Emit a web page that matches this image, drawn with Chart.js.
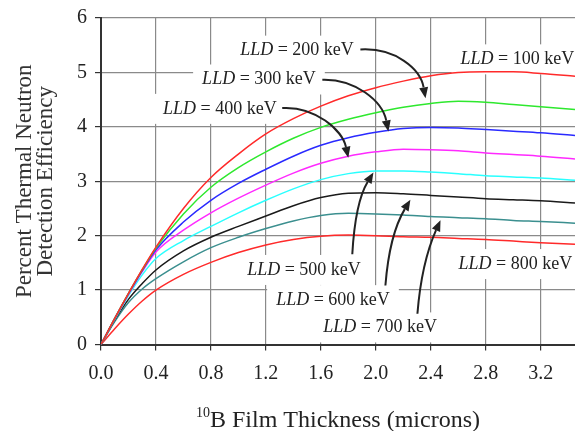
<!DOCTYPE html>
<html>
<head>
<meta charset="utf-8">
<title>Thermal neutron detection efficiency</title>
<script src="https://cdn.jsdelivr.net/npm/chart.js@4.4.1/dist/chart.umd.min.js"></script>
<style>
  html, body { margin: 0; padding: 0; background: #fff; }
  #wrap { width: 575px; height: 431px; position: relative; }
</style>
</head>
<body>
<div id="wrap"><canvas id="effChart"></canvas></div>
<script>
// 10B film thickness (microns)
const thickness = [0, 0.1, 0.2, 0.3, 0.4, 0.6, 0.8, 1.0, 1.2, 1.4, 1.6, 1.8, 2.0, 2.2, 2.4, 2.6, 2.8, 3.0, 3.2, 3.45];

// percent detection efficiency, one array per LLD setting
const eff100 = [0, 0.48, 0.94, 1.38, 1.79, 2.50, 3.07, 3.50, 3.87, 4.15, 4.38, 4.57, 4.72, 4.84, 4.94, 5.00, 5.01, 5.01, 4.98, 4.93];
const eff200 = [0, 0.48, 0.94, 1.37, 1.77, 2.40, 2.89, 3.25, 3.54, 3.79, 3.99, 4.14, 4.26, 4.36, 4.43, 4.47, 4.45, 4.41, 4.37, 4.32];
const eff300 = [0, 0.48, 0.93, 1.36, 1.74, 2.25, 2.65, 2.96, 3.22, 3.46, 3.66, 3.80, 3.90, 3.97, 3.99, 3.98, 3.95, 3.92, 3.89, 3.84];
const eff400 = [0, 0.47, 0.92, 1.34, 1.70, 2.10, 2.42, 2.69, 2.93, 3.15, 3.33, 3.46, 3.54, 3.59, 3.58, 3.56, 3.52, 3.49, 3.46, 3.41];
const eff500 = [0, 0.46, 0.90, 1.28, 1.58, 1.91, 2.17, 2.42, 2.65, 2.86, 3.03, 3.14, 3.19, 3.19, 3.17, 3.14, 3.10, 3.08, 3.06, 3.02];
const eff600 = [0, 0.45, 0.83, 1.12, 1.37, 1.72, 1.97, 2.17, 2.36, 2.55, 2.70, 2.78, 2.79, 2.77, 2.74, 2.71, 2.68, 2.66, 2.64, 2.60];
const eff700 = [0, 0.42, 0.77, 1.02, 1.21, 1.52, 1.78, 1.97, 2.13, 2.27, 2.37, 2.41, 2.40, 2.38, 2.35, 2.33, 2.31, 2.28, 2.26, 2.23];
const eff800 = [0, 0.29, 0.56, 0.80, 1.00, 1.29, 1.51, 1.69, 1.83, 1.93, 1.99, 2.01, 2.00, 1.98, 1.97, 1.95, 1.93, 1.90, 1.87, 1.84];

const lldValues = ['100', '200', '300', '400', '500', '600', '700', '800'];
const yTicks = [0, 1, 2, 3, 4, 5, 6];

const SERIF = '"Liberation Serif", "Times New Roman", serif';

const seriesList = [eff100, eff200, eff300, eff400, eff500, eff600, eff700, eff800];
const lineColors = ['#ff2a2a', '#2ee82e', '#2a2aff', '#ff2aff', '#2affff', '#1a1a1a', '#3b8f8f', '#ff2a2a'];

// where each "LLD = ... keV" label sits (data units: left edge, vertical middle)
const labelSpots = [
    { lld: '100', x: 2.617, y: 5.24 },
    { lld: '200', x: 1.013, y: 5.40 },
    { lld: '300', x: 0.736, y: 4.87 },
    { lld: '400', x: 0.452, y: 4.33 },
    { lld: '500', x: 1.064, y: 1.37 },
    { lld: '600', x: 1.275, y: 0.815 },
    { lld: '700', x: 1.618, y: 0.314 },
    { lld: '800', x: 2.602, y: 1.478 }
];

// curved pointer arrows, bezier in data units
const arrows = [
    { from: [1.888, 5.421], c1: [2.143, 5.457], c2: [2.325, 5.063], to: [2.362, 4.525] },
    { from: [1.611, 4.866], c1: [1.851, 4.884], c2: [2.048, 4.471], to: [2.092, 3.916] },
    { from: [1.319, 4.346], c1: [1.560, 4.382], c2: [1.757, 3.934], to: [1.800, 3.432] },
    { from: [1.829, 1.658], c1: [1.844, 2.321], c2: [1.888, 2.769], to: [1.983, 3.163] },
    { from: [2.070, 1.084], c1: [2.092, 1.783], c2: [2.150, 2.231], to: [2.252, 2.661] },
    { from: [2.303, 0.565], c1: [2.325, 1.246], c2: [2.383, 1.783], to: [2.471, 2.285] }
];

function labelParts(ctx, lld) {
    ctx.font = 'italic 18px ' + SERIF;
    const w1 = ctx.measureText('LLD').width;
    ctx.font = '18px ' + SERIF;
    const rest = ' = ' + lld + ' keV';
    const w2 = ctx.measureText(rest).width;
    return { w1, rest, width: w1 + w2 };
}

const annotationPlugin = {
    id: 'lldAnnotations',
    beforeDatasetsDraw(chart) {
        // white label boxes break the grid, as in the original figure
        const { ctx, scales: { x, y } } = chart;
        ctx.save();
        ctx.fillStyle = '#fff';
        labelSpots.forEach(s => {
            const p = labelParts(ctx, s.lld);
            const px = x.getPixelForValue(s.x);
            const py = y.getPixelForValue(s.y);
            ctx.fillRect(px - 9, py - 15, p.width + 18, 30);
        });
        ctx.restore();
    },
    afterDatasetsDraw(chart) {
        const { ctx, scales: { x, y } } = chart;
        ctx.save();
        ctx.fillStyle = '#222';
        ctx.textBaseline = 'middle';
        ctx.textAlign = 'left';
        labelSpots.forEach(s => {
            const p = labelParts(ctx, s.lld);
            const px = x.getPixelForValue(s.x);
            const py = y.getPixelForValue(s.y);
            ctx.font = 'italic 18px ' + SERIF;
            ctx.fillText('LLD', px, py);
            ctx.font = '18px ' + SERIF;
            ctx.fillText(p.rest, px + p.w1, py);
        });

        ctx.strokeStyle = '#222';
        ctx.lineWidth = 2;
        arrows.forEach(a => {
            const pt = v => [x.getPixelForValue(v[0]), y.getPixelForValue(v[1])];
            const f = pt(a.from), c1 = pt(a.c1), c2 = pt(a.c2), t = pt(a.to);
            const ang = Math.atan2(t[1] - c2[1], t[0] - c2[0]);
            const len = 11, hw = 4.5;
            const bx = t[0] - len * Math.cos(ang), by = t[1] - len * Math.sin(ang);
            ctx.beginPath();
            ctx.moveTo(f[0], f[1]);
            ctx.bezierCurveTo(c1[0], c1[1], c2[0], c2[1], bx, by);
            ctx.stroke();
            ctx.beginPath();
            ctx.moveTo(t[0], t[1]);
            ctx.lineTo(bx - hw * Math.sin(ang), by + hw * Math.cos(ang));
            ctx.lineTo(bx + hw * Math.sin(ang), by - hw * Math.cos(ang));
            ctx.closePath();
            ctx.fill();
        });
        ctx.restore();
    },
    afterDraw(chart) {
        // x axis title with superscript mass number
        const { ctx, chartArea } = chart;
        ctx.save();
        ctx.fillStyle = '#222';
        ctx.textBaseline = 'alphabetic';
        ctx.textAlign = 'left';
        const main = 'B Film Thickness (microns)';
        ctx.font = '14px ' + SERIF;
        const wSup = ctx.measureText('10').width;
        ctx.font = '24px ' + SERIF;
        const wMain = ctx.measureText(main).width;
        const cx = (chartArea.left + chartArea.right) / 2;
        const left = cx - (wSup + wMain) / 2;
        const base = chartArea.bottom + 82;
        ctx.font = '14px ' + SERIF;
        ctx.fillText('10', left, base - 10);
        ctx.font = '24px ' + SERIF;
        ctx.fillText(main, left + wSup, base);
        ctx.restore();
    }
};

const datasets = seriesList.map((vals, i) => ({
    label: 'LLD = ' + lldValues[i] + ' keV',
    data: thickness.map((t, j) => ({ x: t, y: vals[j] })),
    borderColor: lineColors[i],
    borderWidth: 1.5,
    pointRadius: 0,
    fill: false,
    cubicInterpolationMode: 'monotone'
}));

new Chart(document.getElementById('effChart'), {
    type: 'line',
    data: { datasets },
    options: {
        responsive: true,
        maintainAspectRatio: false,
        animation: false,
        layout: { padding: { top: 10, right: 0, left: 0, bottom: 0 } },
        plugins: {
            legend: { display: false },
            tooltip: { enabled: false }
        },
        scales: {
            x: {
                type: 'linear',
                min: 0,
                max: 3.45,
                afterFit: s => { s.height = 86.5; },
                ticks: {
                    stepSize: 0.4,
                    includeBounds: false,
                    callback: v => v.toFixed(1),
                    color: '#222',
                    padding: 13,
                    maxRotation: 0,
                    font: { family: SERIF, size: 20, lineHeight: 1 }
                },
                grid: { color: '#8a8a8a', lineWidth: 1.2, tickLength: 6, tickColor: '#333' },
                border: { color: '#333', width: 2 }
            },
            y: {
                min: yTicks[0],
                max: yTicks[yTicks.length - 1],
                afterFit: s => { s.width = 101; },
                afterBuildTicks: s => { s.ticks = yTicks.map(v => ({ value: v })); },
                ticks: {
                    color: '#222',
                    padding: 8,
                    font: { family: SERIF, size: 20, lineHeight: 1 }
                },
                grid: { color: '#8a8a8a', lineWidth: 1.2, tickLength: 6, tickColor: '#333' },
                border: { color: '#333', width: 2 },
                title: {
                    display: true,
                    text: ['Percent Thermal Neutron', 'Detection Efficiency'],
                    color: '#333',
                    padding: { top: 14, bottom: 0 },
                    font: { family: SERIF, size: 23, lineHeight: 0.92 }
                }
            }
        }
    },
    plugins: [annotationPlugin]
});
</script>
</body>
</html>
